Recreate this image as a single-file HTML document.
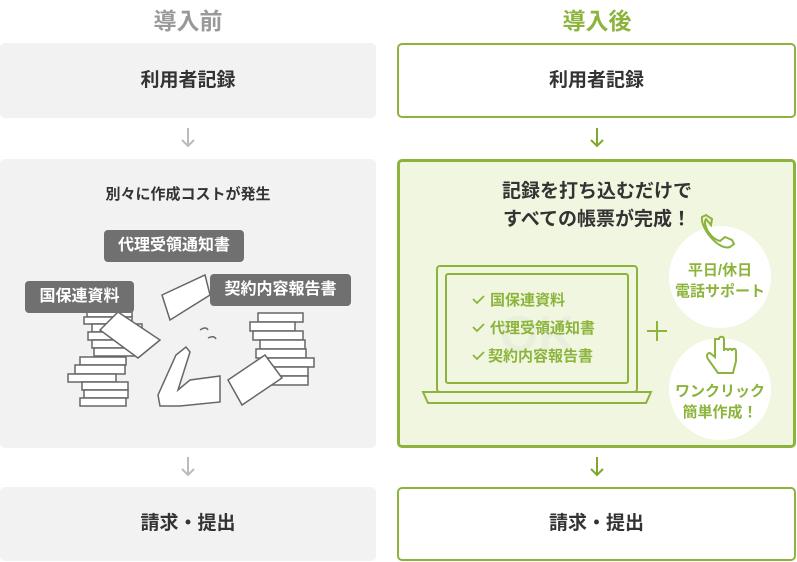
<!DOCTYPE html>
<html><head><meta charset="utf-8"><style>
*{margin:0;padding:0;box-sizing:border-box}
body{width:797px;height:562px;background:#fff;position:relative;overflow:hidden;font-family:"Liberation Sans","Noto Sans CJK JP",sans-serif;font-weight:bold;color:#333}
.a{position:absolute}
.gbox{background:#f2f2f2;border-radius:5px}
.wbox{background:#fff;border:2px solid #8cb43c;border-radius:5px}
.lbl{position:absolute;background:#707070;color:#fff;border-radius:4px;font-size:16px;text-align:center;line-height:32px}
</style></head><body>
<div class="a" style="left:0;top:2px;width:376px;text-align:center;font-size:23px;color:#999">導入前</div>
<div class="a" style="left:397px;top:2px;width:400px;text-align:center;font-size:23px;color:#8cb43c">導入後</div>

<div class="a gbox" style="left:0;top:43px;width:376px;height:75px;line-height:75px;text-align:center;font-size:19px">利用者記録</div>
<div class="a wbox" style="left:397px;top:43px;width:399px;height:75px;line-height:71px;text-align:center;font-size:19px">利用者記録</div>

<div class="a gbox" style="left:0;top:159px;width:376px;height:289px"></div>
<div class="a" style="left:397px;top:159px;width:399px;height:289px;background:#f1f6e1;border:3px solid #8cb43c;border-radius:5px"></div>

<div class="a gbox" style="left:0;top:487px;width:376px;height:74px;line-height:74px;text-align:center;font-size:19px">請求・提出</div>
<div class="a wbox" style="left:397px;top:487px;width:399px;height:74px;line-height:70px;text-align:center;font-size:19px">請求・提出</div>

<svg class="a" style="left:0;top:0" width="797" height="562">
<g fill="none" stroke-width="2">
<path d="M188 128v18M182 140l6 6 6-6" stroke="#bbb"/>
<path d="M188 457v18M182 469l6 6 6-6" stroke="#bbb"/>
<path d="M597 128v18M591 140l6 6 6-6" stroke="#7fa72e"/>
<path d="M597 457v18M591 469l6 6 6-6" stroke="#7fa72e"/>
</g>
<g fill="#fff" stroke="#666" stroke-width="1.5">
<rect x="87" y="310" width="45" height="7"/><rect x="84" y="317" width="48" height="7"/><rect x="92" y="324" width="50" height="8"/><rect x="88" y="332" width="46" height="8"/><rect x="92" y="340" width="40" height="8"/><rect x="94" y="348" width="40" height="8"/><rect x="80" y="357" width="46" height="8"/><rect x="75" y="365" width="50" height="9"/><rect x="68" y="374" width="48" height="8"/><rect x="82" y="382" width="46" height="8"/><rect x="84" y="390" width="44" height="8"/><rect x="80" y="398" width="46" height="8"/>
<polygon points="100,330 118,312 160,340 138,358"/>
<rect x="258" y="313" width="45" height="9"/><rect x="250" y="322" width="45" height="9"/><rect x="253" y="331" width="50" height="9"/><rect x="260" y="340" width="45" height="9"/><rect x="256" y="349" width="50" height="9"/><rect x="262" y="358" width="52" height="9"/><rect x="258" y="367" width="50" height="9"/><rect x="260" y="376" width="48" height="9"/>
<polygon points="162,295 205,275 210,295 170,320"/>
<polygon points="228,380 265,355 282,378 242,405"/>
<path d="M158 395l18-40 10-8 4 5-12 38 12-10 30-4 0 26-40 4-20 0z"/>
<path d="M200 330q6-4 8 0M208 338q6-3 8 1" fill="none"/>
</g>
</svg>

<div class="a" style="left:0;top:183px;width:376px;text-align:center;font-size:15px">別々に作成コストが発生</div>
<div class="lbl" style="left:104px;top:230px;width:140px">代理受領通知書</div>
<div class="lbl" style="left:25px;top:281px;width:109px">国保連資料</div>
<div class="lbl" style="left:210px;top:274px;width:141px">契約内容報告書</div>

<div class="a" style="left:397px;top:178px;width:400px;text-align:center;font-size:19px;line-height:28px">記録を打ち込むだけで<br>すべての帳票が完成！</div>

<svg class="a" style="left:397px;top:159px" width="400" height="289">
<circle cx="323" cy="118" r="51" fill="#fff"/>
<circle cx="323" cy="230" r="51" fill="#fff"/>
<g fill="none" stroke="#8cb43c" stroke-width="2">
<rect x="40" y="107" width="200" height="126" rx="3"/>
<rect x="49" y="115" width="182" height="109" rx="2"/>
<path d="M26 233h228l-5 11H31z"/>
<path d="M250 172h20M260 162v20" />
<path d="M309 60c-4 6 5 20 14 22l5-4 7 3 2 4-4 3c-12 4-30-20-28-30l4-2 6 4-1 6z"/>
<path d="M318 180v18l-5-4c-3 0-4 3-2 6l10 14h15l3-12v-10c0-3-4-3-4 0 0-3-4-3-4 0 0-3-4-3-4 0v-12c0-3-5-3-5 0z"/>
</g>
<text x="140" y="192" font-size="50" fill="#e9efdc" text-anchor="middle" font-family="Liberation Sans">OK</text>
<g fill="none" stroke="#8cb43c" stroke-width="1.8"><path d="M76 140l4 4 7-7M76 168l4 4 7-7M76 196l4 4 7-7"/></g>
<g font-size="15" fill="#8cb43c" font-weight="bold" font-family="Liberation Sans,Noto Sans CJK JP,sans-serif">
<text x="93" y="146">国保連資料</text><text x="93" y="174">代理受領通知書</text><text x="91" y="202">契約内容報告書</text>
<text x="323" y="116" text-anchor="middle">平日/休日</text><text x="323" y="137" text-anchor="middle">電話サポート</text>
<text x="323" y="237" text-anchor="middle">ワンクリック</text><text x="323" y="258" text-anchor="middle">簡単作成！</text>
</g>
</svg>
</body></html>
